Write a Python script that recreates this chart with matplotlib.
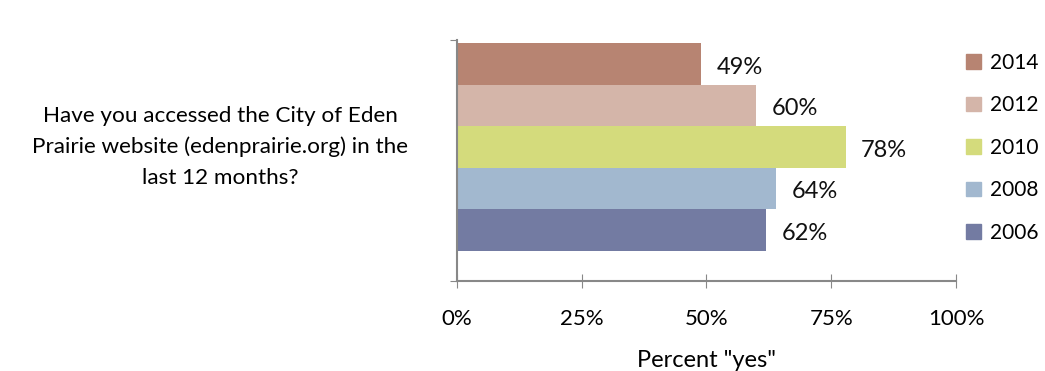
import matplotlib.pyplot as plt
from matplotlib.patches import Patch

plt.rcParams['font.family'] = ['Lato', 'DejaVu Sans']

# Data
question = 'Have you accessed the City of Eden\nPrairie website (edenprairie.org) in the\nlast 12 months?'
years = ['2006', '2008', '2010', '2012', '2014']
values = [62, 64, 78, 60, 49]
colors = ['#737ba2', '#a2b8cf', '#d4db7c', '#d4b5a9', '#b78472']
xticks = [0, 25, 50, 75, 100]

f = plt.figure(figsize=(10.45, 3.71), dpi=100)
ax = f.add_axes([0.4373, 0.2426, 0.4775, 0.6496])

pos = list(range(len(years)))
ax.barh(pos, values, height=1.0, color=colors, edgecolor='none')

for p, v in zip(pos, values):
    ax.text(v + 3.0, p - 0.08, '%d%%' % v, va='center', ha='left', fontsize=17, color='#111111')

ax.set_xlim(0, 100)
ax.set_ylim(-1.22, 4.57)
ax.set_xticks(xticks)
ax.set_xticklabels(['%d%%' % t for t in xticks], fontsize=16)
ax.set_yticks([-1.22, 4.57])
ax.set_yticklabels([])
ax.tick_params(axis='x', direction='inout', length=10, color='#888888', pad=15)
ax.tick_params(axis='y', direction='out', length=5, color='#888888')

for s in ['top', 'right']:
    ax.spines[s].set_visible(False)
for s in ['left', 'bottom']:
    ax.spines[s].set_color('#888888')
    ax.spines[s].set_linewidth(1.5)

ax.set_xlabel('Percent "yes"', fontsize=17, labelpad=15)

ax.text(-0.475, 2.0, question, transform=ax.get_yaxis_transform(),
        ha='center', va='center', fontsize=16.2, linespacing=1.65)

handles = [Patch(color=c) for c in colors[::-1]]
f.legend(handles, years[::-1], loc='upper left', bbox_to_anchor=(0.91, 0.897),
         frameon=False, fontsize=15, handlelength=0.72, handleheight=0.72,
         handletextpad=0.45, labelspacing=1.08, borderpad=0.2)

plt.savefig('out.png')
